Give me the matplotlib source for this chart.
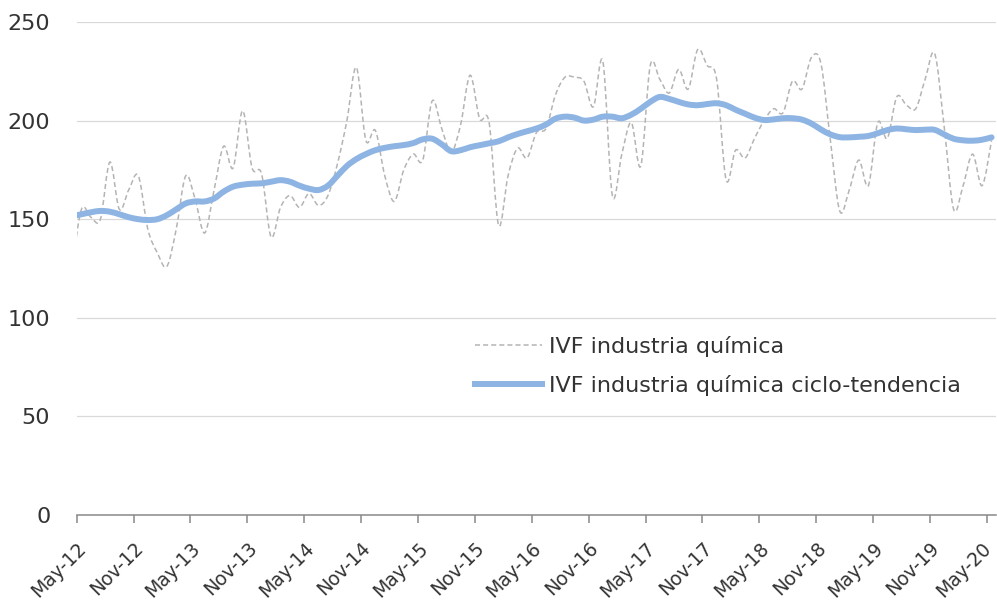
import matplotlib

matplotlib.use("Agg")
import matplotlib.pyplot as plt
import matplotlib.transforms as mtransforms
import numpy as np
from matplotlib.lines import Line2D
from matplotlib.patches import PathPatch
from matplotlib.path import Path

# monthly values, Apr-12 .. May-20 (the Apr-12 point sits left of the axis and is clipped)
ivf = [125,
       155, 151, 150, 179, 155, 165, 172, 145, 133, 126,
       145, 172, 160, 143, 165, 187, 176, 205, 176, 173,
       141, 156, 162, 156, 163, 157, 162, 178, 200, 227,
       190, 195, 172, 159, 175, 183, 180, 210, 196, 184,
       198, 223, 201, 199, 147, 172, 186, 181, 194, 196,
       213, 222, 222, 220, 207, 230, 162, 183, 199, 177,
       228, 221, 214, 226, 216, 236, 228, 221, 170, 185,
       181, 191, 200, 206, 204, 220, 216, 232, 229, 190,
       154, 165, 180, 167, 199, 191, 212, 208, 206, 221,
       234, 197, 155, 167, 183, 167, 190]
trend = [151.5,
         152.5, 153.5, 154.2, 153.8, 152.5, 151, 150, 149.6, 150, 152,
         155, 158, 159, 159, 160.5, 164, 166.5, 167.5, 168, 168.2,
         169, 169.8, 169, 167, 165.5, 164.8, 167, 172, 177, 180.5,
         183, 185, 186.2, 187, 187.6, 188.6, 190.5, 190.8, 188, 184.5,
         185, 186.5, 187.5, 188.5, 189.5, 191.5, 193.2, 194.6, 196, 198,
         201, 202, 201.5, 200, 200.5, 202, 202, 201.2, 203, 206,
         209.5, 212, 211, 209.5, 208.2, 207.8, 208.4, 208.8, 207.8, 205.5,
         203.5, 201.5, 200.3, 200.6, 201.2, 201.2, 200.5, 198.5, 195.5, 193,
         191.6, 191.5, 191.8, 192.2, 193.6, 195.2, 196, 195.6, 195.2, 195.4,
         195.3, 193, 190.8, 190, 189.8, 190.3, 191.5]
tick_labels = ["May-12", "Nov-12", "May-13", "Nov-13", "May-14", "Nov-14",
               "May-15", "Nov-15", "May-16", "Nov-16", "May-17", "Nov-17",
               "May-18", "Nov-18", "May-19", "Nov-19", "May-20"]
series_names = ["IVF industria química", "IVF industria química ciclo-tendencia"]

# points sit mid-month; ticks mark the first of the month
months = np.arange(-1, len(ivf) - 1) + 0.5
tick_pos = np.arange(0, 97, 6)

GRAY = "#b4b4b4"
BLUE = "#8db4e2"
TEXT = "#333333"
XLAB_SIZE = 13.5


def smooth_path(x, y, t=1 / 6):
    pts = np.column_stack([x, y])
    verts, codes = [pts[0]], [Path.MOVETO]
    for i in range(len(pts) - 1):
        p0 = pts[max(i - 1, 0)]
        p1, p2 = pts[i], pts[i + 1]
        p3 = pts[min(i + 2, len(pts) - 1)]
        verts += [p1 + (p2 - p0) * t, p2 - (p3 - p1) * t, p2]
        codes += [Path.CURVE4] * 3
    return Path(verts, codes)


plt.rcParams["font.family"] = ["DejaVu Sans"]
fig = plt.figure(figsize=(9.97, 6.15), dpi=100)
ax = fig.add_axes([76.7 / 997, 100 / 615, 919.6 / 997, 493 / 615])

dash = (0, (3.3, 2.0))
ax.add_patch(PathPatch(smooth_path(months, ivf), fill=False, edgecolor=GRAY,
                       lw=1.1, ls=dash, zorder=3))
ax.add_patch(PathPatch(smooth_path(months, trend), fill=False, edgecolor=BLUE,
                       lw=4.3, capstyle="round", joinstyle="round", zorder=4))

ax.set_xlim(0, 97)
ax.set_ylim(0, 250)
ax.set_yticks(np.arange(0, 251, 50))
ax.set_xticks(tick_pos)
# last label is drawn by hand, nudged left so it stays inside the figure
ax.set_xticklabels(tick_labels[:-1] + [""], rotation=45, ha="right", va="top",
                   rotation_mode="anchor")
nudge = mtransforms.ScaledTranslation(-5 / 100, -17 / 72, fig.dpi_scale_trans)
ax.text(tick_pos[-1], 0, tick_labels[-1], transform=ax.get_xaxis_transform() + nudge,
        rotation=45, ha="right", va="top", rotation_mode="anchor",
        fontsize=XLAB_SIZE, color=TEXT)
ax.grid(axis="y", color="#d9d9d9", lw=0.9)
ax.set_axisbelow(True)
for side in ("left", "right", "top"):
    ax.spines[side].set_visible(False)
ax.spines["bottom"].set_color("#898989")
ax.spines["bottom"].set_linewidth(1.1)
ax.spines["bottom"].set_zorder(5)
ax.tick_params(axis="y", length=0, pad=19, labelsize=16, labelcolor=TEXT)
ax.tick_params(axis="x", length=6, width=1.1, color="#898989", pad=11,
               labelsize=XLAB_SIZE, labelcolor=TEXT)

handles = [Line2D([], [], color=GRAY, lw=1.1, ls=dash),
           Line2D([], [], color=BLUE, lw=4.3)]
ax.legend(handles, series_names, loc="upper left",
          bbox_to_anchor=(475 / 997, 1 - 336 / 615), bbox_transform=fig.transFigure,
          frameon=False, fontsize=16, handlelength=3.0, handletextpad=0.35,
          labelspacing=0.82, borderpad=0, borderaxespad=0, labelcolor=TEXT)

fig.savefig("out.png", dpi=100)
